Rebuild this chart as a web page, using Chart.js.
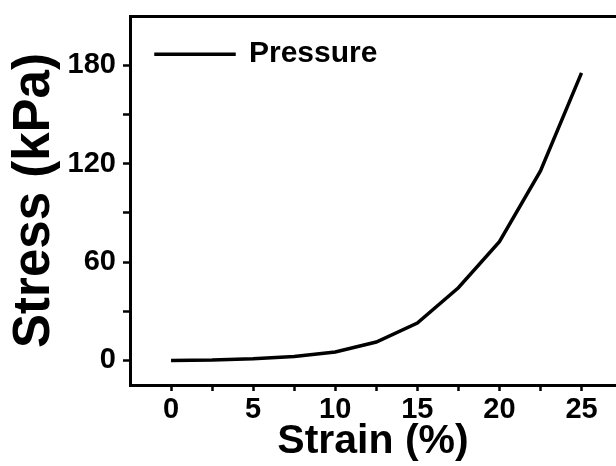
<!DOCTYPE html>
<html>
<head>
<meta charset="utf-8">
<script src="https://cdn.jsdelivr.net/npm/chart.js@4/dist/chart.umd.min.js"></script>
<style>
  html, body { margin: 0; padding: 0; background: #fff; overflow: hidden; }
</style>
</head>
<body>
<canvas id="grafico" width="616" height="466"></canvas>
<script>
// Dados
const strain = [0, 2.5, 5, 7.5, 10, 12.5, 15, 17.5, 20, 22.5, 25];
const stress = [0, 0.2, 1.0, 2.4, 5.1, 11.2, 22.8, 44.3, 72.4, 115.5, 175.3];
const xTicks = [0, 2.5, 5, 7.5, 10, 12.5, 15, 17.5, 20, 22.5, 25];
const yTicks = [0, 30, 60, 90, 120, 150, 180];
const xLabels = [0, 5, 10, 15, 20, 25];
const yLabels = [0, 60, 120, 180];

const fonte = 'Liberation Sans, Arial, sans-serif';

const ctx = document.getElementById('grafico').getContext('2d');
new Chart(ctx, {
    type: 'line',
    data: {
        datasets: [{
            label: 'Pressure',
            data: strain.map((x, i) => ({ x: x, y: stress[i] })),
            borderColor: '#000',
            backgroundColor: '#000',
            borderWidth: 3.5,
            pointRadius: 0,
            tension: 0
        }]
    },
    options: {
        responsive: false,
        animation: false,
        layout: { padding: { top: 16, right: 0, bottom: 0, left: 0 } },
        plugins: {
            tooltip: { enabled: false },
            legend: {
                position: 'chartArea',
                align: 'start',
                title: {
                    display: true,
                    text: ' ',
                    font: { size: 1 },
                    padding: { top: 12, bottom: 0 }
                },
                labels: {
                    color: '#000',
                    font: { family: fonte, size: 30, weight: 'bold' },
                    boxWidth: 78,
                    boxHeight: 0.01,
                    padding: 26
                }
            }
        },
        scales: {
            x: {
                type: 'linear',
                min: -2.5,
                max: 27.1,
                afterFit: s => { s.height = 81; s.paddingLeft = 0; s.paddingRight = 0; },
                afterBuildTicks: s => { s.ticks = xTicks.map(v => ({ value: v })); },
                grid: { drawOnChartArea: false, tickLength: 6, tickWidth: 2.5, tickColor: '#000' },
                border: { color: '#000', width: 3 },
                ticks: {
                    autoSkip: false,
                    maxRotation: 0,
                    padding: 2,
                    color: '#000',
                    font: { family: fonte, size: 29, weight: 'bold' },
                    callback: v => xLabels.includes(v) ? String(v) : ''
                },
                title: {
                    display: true,
                    text: 'Strain (%)',
                    color: '#000',
                    font: { family: fonte, size: 41, weight: 'bold' },
                    padding: { top: 0, bottom: 0 }
                }
            },
            x2: {
                type: 'linear',
                position: 'top',
                min: -2.5,
                max: 27.1,
                afterFit: s => { s.height = 0; },
                grid: { display: false, drawTicks: false },
                border: { color: '#000', width: 3 },
                ticks: { display: false }
            },
            y: {
                min: -15,
                max: 210,
                afterFit: s => { s.width = 130; s.paddingTop = 0; s.paddingBottom = 0; },
                afterBuildTicks: s => { s.ticks = yTicks.map(v => ({ value: v })); },
                grid: { drawOnChartArea: false, tickLength: 7, tickWidth: 2.5, tickColor: '#000' },
                border: { color: '#000', width: 3 },
                ticks: {
                    padding: 7,
                    color: '#000',
                    font: { family: fonte, size: 29, weight: 'bold' },
                    callback: v => yLabels.includes(v) ? String(v) : ''
                },
                title: {
                    display: true,
                    text: 'Stress (kPa)',
                    color: '#000',
                    font: { family: fonte, size: 51, weight: 'bold' },
                    padding: { top: 4, bottom: 0 }
                }
            }
        }
    }
});
</script>
</body>
</html>
